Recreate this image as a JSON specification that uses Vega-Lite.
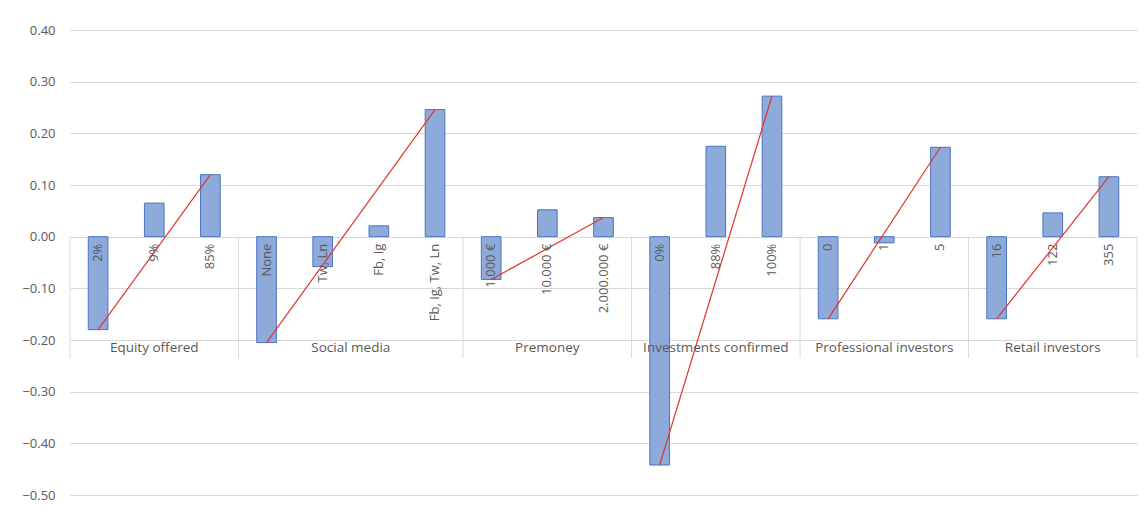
{
  "$schema": "https://vega.github.io/schema/vega-lite/v6.json",
  "autosize": {"type": "none"},
  "padding": {"left": 70, "top": 30, "right": 6, "bottom": 12},
  "width": 1067,
  "height": 465,
  "background": "white",
  "config": {
    "view": {"stroke": null},
    "font": "Open Sans",
    "text": {"font": "Open Sans"}
  },
  "data": {
    "values": [
      {"group": "Equity offered", "level": "2%", "value": -0.18},
      {"group": "Equity offered", "level": "9%", "value": 0.065},
      {"group": "Equity offered", "level": "85%", "value": 0.12},
      {"group": "Social media", "level": "None", "value": -0.205},
      {"group": "Social media", "level": "Tw, Ln", "value": -0.058},
      {"group": "Social media", "level": "Fb, Ig", "value": 0.021},
      {"group": "Social media", "level": "Fb, Ig, Tw, Ln", "value": 0.246},
      {"group": "Premoney", "level": "1.000 €", "value": -0.083},
      {"group": "Premoney", "level": "10.000 €", "value": 0.052},
      {"group": "Premoney", "level": "2.000.000 €", "value": 0.037},
      {"group": "Investments confirmed", "level": "0%", "value": -0.442},
      {"group": "Investments confirmed", "level": "88%", "value": 0.175},
      {"group": "Investments confirmed", "level": "100%", "value": 0.272},
      {"group": "Professional investors", "level": "0", "value": -0.159},
      {"group": "Professional investors", "level": "1", "value": -0.012},
      {"group": "Professional investors", "level": "5", "value": 0.173},
      {"group": "Retail investors", "level": "16", "value": -0.159},
      {"group": "Retail investors", "level": "122", "value": 0.046},
      {"group": "Retail investors", "level": "355", "value": 0.116}
    ]
  },
  "transform": [
    {"window": [{"op": "row_number", "as": "rank"}], "groupby": ["group"]},
    {"joinaggregate": [{"op": "count", "as": "n"}], "groupby": ["group"]}
  ],
  "encoding": {
    "x": {
      "field": "level",
      "type": "nominal",
      "scale": {
        "domain": ["2%", "9%", "85%", "None", "Tw, Ln", "Fb, Ig", "Fb, Ig, Tw, Ln", "1.000 €", "10.000 €", "2.000.000 €", "0%", "88%", "100%", "0", "1", "5", "16", "122", "355"],
        "paddingInner": 0,
        "paddingOuter": 0
      },
      "axis": null
    }
  },
  "layer": [
    {
      "mark": {"type": "bar", "width": {"band": 0.35}, "fill": "#8eaadb", "stroke": "#4a74c2", "strokeWidth": 1},
      "encoding": {
        "y": {
          "field": "value",
          "type": "quantitative",
          "scale": {"domain": [-0.5, 0.4], "nice": false, "zero": false},
          "axis": {
            "title": null,
            "values": [-0.5, -0.4, -0.3, -0.2, -0.1, 0, 0.1, 0.2, 0.3, 0.4],
            "format": ".2f",
            "domain": false,
            "ticks": false,
            "labelPadding": 15,
            "labelFontSize": 13,
            "labelColor": "#595959",
            "gridColor": "#d9d9d9",
            "gridWidth": 1
          }
        }
      }
    },
    {
      "mark": {"type": "rule", "color": "#d9d9d9", "strokeWidth": 1},
      "encoding": {"y": {"datum": 0}}
    },
    {
      "transform": [{"filter": "datum.rank == 1"}],
      "mark": {"type": "rule", "color": "#d9d9d9", "strokeWidth": 1},
      "encoding": {
        "x": {"field": "level", "type": "nominal", "bandPosition": 0},
        "y": {"datum": 0},
        "y2": {"datum": -0.235}
      }
    },
    {
      "transform": [{"filter": "datum.group == 'Retail investors' && datum.rank == datum.n"}],
      "mark": {"type": "rule", "color": "#d9d9d9", "strokeWidth": 1},
      "encoding": {
        "x": {"field": "level", "type": "nominal", "bandPosition": 1},
        "y": {"datum": 0},
        "y2": {"datum": -0.235}
      }
    },
    {
      "transform": [{"filter": "datum.rank == 1 || datum.rank == datum.n"}],
      "mark": {"type": "line", "color": "#e0352b", "strokeWidth": 1.2},
      "encoding": {
        "y": {"field": "value", "type": "quantitative"},
        "detail": {"field": "group"}
      }
    },
    {
      "mark": {"type": "text", "angle": 270, "align": "right", "baseline": "middle", "dx": -7, "fontSize": 13, "color": "#595959"},
      "encoding": {
        "y": {"datum": 0},
        "text": {"field": "level"}
      }
    },
    {
      "transform": [{"filter": "datum.n % 2 == 1 && datum.rank == (datum.n + 1) / 2"}],
      "mark": {"type": "text", "align": "center", "baseline": "middle", "fontSize": 13.5, "color": "#595959"},
      "encoding": {
        "x": {"field": "level", "type": "nominal", "bandPosition": 0.5},
        "y": {"datum": -0.215},
        "text": {"field": "group"}
      }
    },
    {
      "transform": [{"filter": "datum.n % 2 == 0 && datum.rank == datum.n / 2"}],
      "mark": {"type": "text", "align": "center", "baseline": "middle", "fontSize": 13.5, "color": "#595959"},
      "encoding": {
        "x": {"field": "level", "type": "nominal", "bandPosition": 1},
        "y": {"datum": -0.215},
        "text": {"field": "group"}
      }
    }
  ]
}
